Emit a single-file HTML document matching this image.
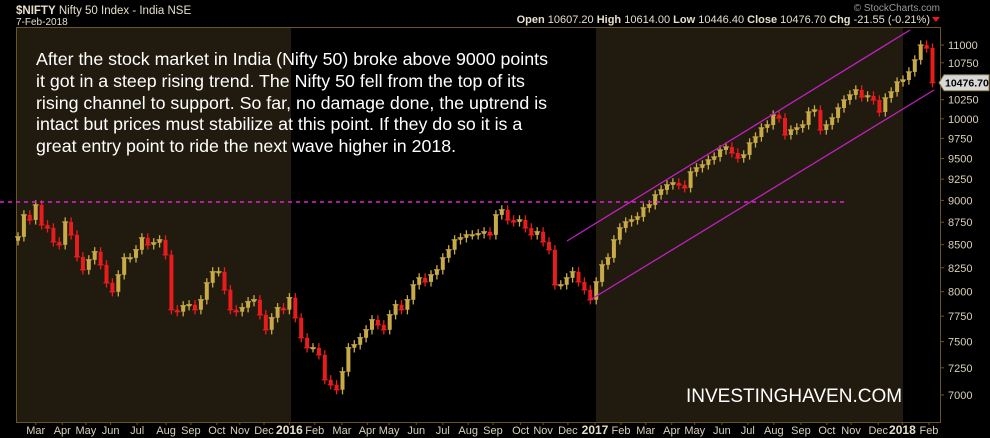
<!DOCTYPE html>
<html><head><meta charset="utf-8"><style>
html,body{margin:0;padding:0;background:#000;}
#wrap{position:relative;width:990px;height:438px;overflow:hidden;background:#000;font-family:"Liberation Sans",sans-serif;}
svg{position:absolute;left:0;top:0;}
</style></head><body>
<div id="wrap">
<svg id="chart" width="990" height="438">
  <rect x="16" y="28" width="275" height="394" fill="#211a0e"/>
  <rect x="596" y="28" width="307" height="394" fill="#211a0e"/>
  <rect x="16.5" y="27.5" width="924" height="395" fill="none" stroke="#6b5422" stroke-width="1"/>
  <text x="16" y="14" fill="#e6dfc8" font-size="11.5"><tspan font-weight="bold">$NIFTY</tspan> Nifty 50 Index - India NSE</text>
  <text x="16" y="25" fill="#e6dfc8" font-size="10">7-Feb-2018</text>
  <text x="940" y="11" fill="#9a9a9a" font-size="10" text-anchor="end">© StockCharts.com</text>
  <text x="930" y="23" fill="#e6dfc8" font-size="11" text-anchor="end"><tspan font-weight="bold">Open</tspan> 10607.20  <tspan font-weight="bold">High</tspan> 10614.00  <tspan font-weight="bold">Low</tspan> 10446.40  <tspan font-weight="bold">Close</tspan> 10476.70  <tspan font-weight="bold">Chg</tspan> -21.55 (-0.21%)</text>
  <polygon points="932,17 940,17 936,22" fill="#e81c1c"/>
  <g id="bars"></g>
  <line x1="0" y1="202" x2="847" y2="202" stroke="#e020e0" stroke-width="1.5" stroke-dasharray="4,4"/>
  <line x1="567" y1="241" x2="910" y2="30" stroke="#c020c0" stroke-width="1.3"/>
  <line x1="590" y1="300" x2="934" y2="90" stroke="#c020c0" stroke-width="1.3"/>
  <g id="yaxis"></g>
  <g id="xaxis"></g>
  <g fill="#ffffff" font-size="17.8">
    <text x="36" y="65">After the stock market in India (Nifty 50) broke above 9000 points</text>
    <text x="36" y="87">it got in a steep rising trend. The Nifty 50 fell from the top of its</text>
    <text x="36" y="109">rising channel to support. So far, no damage done, the uptrend is</text>
    <text x="36" y="130">intact but prices must stabilize at this point. If they do so it is a</text>
    <text x="36" y="152">great entry point to ride the next wave higher in 2018.</text>
  </g>
  <text x="686" y="402" fill="#ffffff" font-size="19">INVESTINGHAVEN.COM</text>
</svg>
</div>
<script>
// weekly closes, Feb 2015 - Feb 2018
const closes = [8586,8833,8776,8948,8720,8686,8531,8498,8753,8608,
 8367,8228,8335,8422,8281,8091,7998,8175,8356,8356,
 8444,8575,8498,8520,8553,8389,7815,7795,7855,7865,
 7815,7916,8091,8207,8207,8019,7815,7795,7835,7896,
 7916,7764,7615,7734,7835,7815,7937,7734,7537,7440,
 7440,7373,7139,7093,7048,7213,7440,7469,7537,7615,
 7714,7664,7615,7764,7865,7815,7916,8070,8143,8101,
 8175,8228,8356,8444,8553,8575,8608,8608,8620,8642,
 8608,8833,8891,8776,8753,8776,8686,8608,8642,8531,
 8444,8070,8070,8143,8207,8101,8019,7916,8101,8281,
 8356,8553,8686,8753,8776,8810,8913,8948,9064,9123,
 9182,9206,9182,9147,9337,9386,9422,9483,9519,9606,
 9643,9569,9507,9544,9693,9768,9883,9921,10050,10011,
 9794,9857,9883,9921,10089,10115,9857,9921,10011,10141,
 10246,10313,10380,10286,10300,10246,10089,10273,10353,10487,
 10514,10624,10790,11000,10958,10477];
const yTicks = [7000,7250,7500,7750,8000,8250,8500,8750,9000,9250,9500,9750,10000,10250,10500,10750,11000];
const xLabels = ["Mar","Apr","May","Jun","Jul","Aug","Sep","Oct","Nov","Dec","2016","Feb","Mar","Apr","May","Jun","Jul","Aug","Sep","Oct","Nov","Dec","2017","Feb","Mar","Apr","May","Jun","Jul","Aug","Sep","Oct","Nov","Dec","2018","Feb"];
const xLabelWeeks = [3,7.5,11.5,15.7,20.2,25.1,29.3,33.7,37.6,41.7,46,50.3,54.9,59.2,62.9,67.5,72,76.3,80.5,85.2,89,93.2,97.8,102.2,106.4,110.8,114.7,119.3,123.7,128.1,132.7,137.1,141.2,145.8,149.9,154.4];
const lastClose = 10476.70;

const NS = "http://www.w3.org/2000/svg";
const X0 = 18, DX = 5.9;
function xScale(i){ return X0 + i*DX; }
function yScale(v){ return 45 + 1783*(Math.log10(11000) - Math.log10(v)); }
function mk(tag, attrs, parent){ const e=document.createElementNS(NS,tag); for(const k in attrs) e.setAttribute(k, attrs[k]); parent.appendChild(e); return e; }

const yax = document.getElementById('yaxis');
yTicks.forEach(v=>{
  const y = yScale(v);
  const t = mk('line',{x1:940,y1:y,x2:944,y2:y,stroke:'#6b5422'},yax);
  
  
  const l = mk('text',{x:948,y:y+4,fill:'#d8d0b8','font-size':11},yax);
  
  
  l.textContent = v;
});
const py = yScale(lastClose);
const tag = mk('polygon',{points:`939,${py} 944,${py-8} 989,${py-8} 989,${py+8} 944,${py+8}`,fill:'#d8d8d8',stroke:'#8a7a50'},yax);


const tt = mk('text',{x:945,y:py+4,fill:'#000','font-size':10.5,'font-weight':'bold'},yax);


tt.textContent = lastClose.toFixed(2);

const xax = document.getElementById('xaxis');
xLabels.forEach((s,k)=>{
  const x = xScale(xLabelWeeks[k]);
  const t = mk('line',{x1:x,y1:422,x2:x,y2:425,stroke:'#6b5422'},xax);
  
  
  const isYear = /^\d{4}$/.test(s);
  const l = mk('text',{x:x,y:434,fill:isYear?'#e6dfc8':'#d8d0b8','font-size':isYear?12:11,'font-weight':isYear?'bold':'normal','text-anchor':'middle'},xax);
  
  
  l.textContent = s;
});

const bars = document.getElementById('bars');
closes.forEach((c,i)=>{
  const o = i>0 ? closes[i-1] : c*0.995;
  const hi = Math.max(o,c)*1.006, lo = Math.min(o,c)*0.994;
  const up = c>=o;
  const col = up ? '#c8aa48' : '#e81c1c';
  const x = xScale(i);
  const g = mk('g',{},bars);
  
  
  mk('line',{x1:x,y1:yScale(hi),x2:x,y2:yScale(lo),stroke:col,'stroke-width':1.3},g);
  mk('rect',{x:x-2,y:yScale(Math.max(o,c)),width:4,height:Math.max(1.5,Math.abs(yScale(o)-yScale(c))),fill:col},g);
  mk('line',{x1:x-3,y1:yScale(c),x2:x+3,y2:yScale(c),stroke:col,'stroke-width':1.2},g);
});
</script>
</body></html>
